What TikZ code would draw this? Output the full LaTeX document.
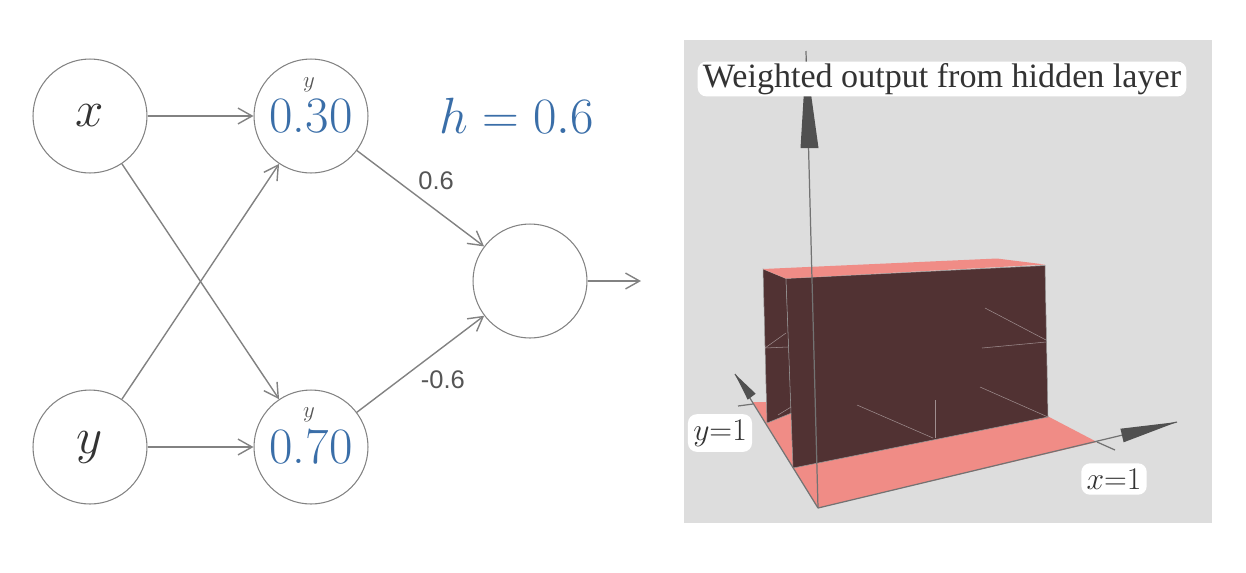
\RequirePackage{fix-cm}
\documentclass[tikz,border=0pt]{standalone}
\usepackage{amsmath}
\usepackage{fontspec}
\usetikzlibrary{arrows.meta}
\newfontfamily\labelfont{Liberation Sans}
\newfontfamily\titlefont{Liberation Serif}
\definecolor{netgray}{RGB}{130,130,130}
\definecolor{labelgray}{RGB}{85,85,85}
\definecolor{valblue}{RGB}{58,110,168}
\definecolor{panelgray}{RGB}{221,221,221}
\definecolor{floorpink}{RGB}{240,140,134}
\definecolor{wallbrown}{RGB}{81,50,51}
\definecolor{conegray}{RGB}{80,80,80}
\definecolor{axisgray}{RGB}{115,115,115}

\begin{document}
\begin{tikzpicture}[x=0.02cm, y=-0.02cm]
        \useasboundingbox (0,0) rectangle (1246,572);
        % network
        \begin{scope}[every node/.style={draw=netgray, line width=0.6pt, circle, minimum size=2.28cm, inner sep=0, text=black!80, font=\fontsize{29}{32}\selectfont}]
                \node (X1) at (90,116) {\(x\)};
                \node (Y1) at (90,447) {\(y\)};
                \node[text=valblue] (H1) at (311,116) {0.30};
                \node[text=valblue] (H2) at (311,447) {0.70};
                \node (O1) at (530,281) {};
        \end{scope}
        \coordinate (OUT) at (641,281);
        \node[text=valblue, font=\fontsize{29}{32}\selectfont] (Hval) at (517,116) {\(h = 0.6\)};
        \node[text=labelgray, font=\fontsize{13}{14}\selectfont] (H1y) at (309,85) {\(y\)};
        \node[text=labelgray, font=\fontsize{13}{14}\selectfont] (H2y) at (309,415) {\(y\)};
        \begin{scope}[every node/.style={text=labelgray, inner sep=2pt, font=\labelfont\fontsize{14.5}{16}\selectfont}, every path/.style={netgray, line width=0.8pt, ->, >={Straight Barb[length=8pt,width=9pt]}}]
                \path (X1) edge (H1);
                \path (X1) edge (H2);
                \path (Y1) edge (H1);
                \path (Y1) edge (H2);
                \path (H1) edge node[auto, pos=0.45] {0.6} (O1);
                \path (H2) edge node[auto, swap, pos=0.47] {-0.6} (O1);
                \path (O1) edge (OUT);
        \end{scope}

        % plot panel
        \fill[panelgray] (684,40) rectangle (1212,523);
        \fill[floorpink] (818,508) -- (1097,442) -- (1030,407) -- (753,402) -- cycle;
        \fill[wallbrown, draw=gray!80, line width=0.3pt] (763,269) -- (786,278.5) -- (791.5,413) -- (767,423) -- cycle;
        \fill[wallbrown, draw=gray!80, line width=0.3pt] (786,278.5) -- (1045,265.5) -- (1048,417) -- (793,468) -- cycle;
        \fill[floorpink] (763,269) -- (997,258.5) -- (1045,264.5) -- (786,278.5) -- cycle;
        \begin{scope}[every path/.style={draw=wallbrown!55!white, line width=0.3pt}]
                \path (985,308) -- (1046,340);
                \path (982,348) -- (1046,342);
                \path (980,387) -- (1048,417);
                \path (935,400) -- (935,438);
                \path (857,405) -- (933,438);
                \path (765,348) -- (786,333);
                \path (765,348) -- (788,347);
                \path (778,415) -- (791,407);
        \end{scope}
        \coordinate (O) at (818,508);
        \coordinate (ZT) at (806,51);
        \coordinate (YT) at (735,374);
        \coordinate (XT) at (1177,422);
        \begin{scope}[every path/.style={draw=axisgray, line width=0.7pt}]
                \path (O) -- (ZT);
                \path (O) -- (YT);
                \path (O) -- (XT);
                \path (738,406) -- (753,404);
                \path (1097,442) -- (1115,450);
        \end{scope}
        \fill[conegray] (806,58) -- (818.5,148) -- (800.5,148) -- cycle;
        \fill[conegray] (YT) -- (755.7,393.7) -- (747.7,399.7) -- cycle;
        \fill[conegray] (XT) -- (1123.6,442.3) -- (1120.4,428.7) -- cycle;
        \begin{scope}[every node/.style={fill=white, rounded corners=5pt, text=black!80}]
                \node[font=\titlefont\fontsize{19.4}{21}\selectfont, inner xsep=3pt, inner ysep=1pt] (T1) at (942,79) {Weighted output from hidden layer};
                \node[font=\fontsize{18}{20}\selectfont, inner sep=3pt] (YL) at (720,433) {\(y\)=1};
                \node[font=\fontsize{18}{20}\selectfont, inner sep=3pt] (XL) at (1114,479) {\(x\)=1};
        \end{scope}
\end{tikzpicture}
\end{document}
